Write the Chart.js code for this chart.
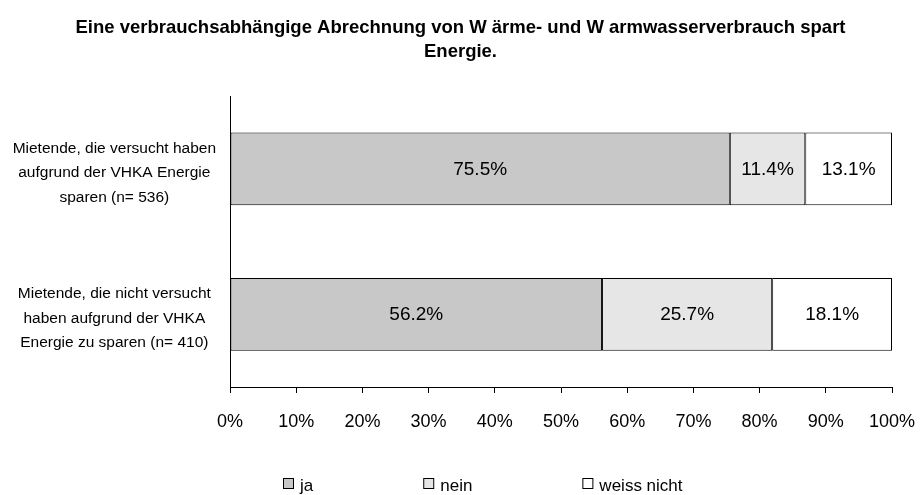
<!DOCTYPE html>
<html><head><meta charset="utf-8">
<script src="https://cdn.jsdelivr.net/npm/chart.js@4.4.1/dist/chart.umd.min.js"></script>
<style>html,body{margin:0;padding:0;background:#fff;} #wrap{width:921px;height:495px;}</style>
</head><body><div id="wrap"><canvas id="c" width="921" height="495"></canvas></div>
<script>
const titleLines = ["Eine verbrauchsabhängige Abrechnung von W ärme- und W armwasserverbrauch spart", "Energie."];
const categories = [
  ["Mietende, die versucht haben", "aufgrund der VHKA Energie", "sparen (n= 536)"],
  ["Mietende, die nicht versucht", "haben aufgrund der VHKA", "Energie zu sparen (n= 410)"]
];
const seriesNames = ["ja", "nein", "weiss nicht"];
const jaValues = [75.5, 56.2];
const neinValues = [11.4, 25.7];
const weissNichtValues = [13.1, 18.1];
const tickLabels = ["0%", "10%", "20%", "30%", "40%", "50%", "60%", "70%", "80%", "90%", "100%"];

const FONT = '"Liberation Sans", Arial, Helvetica, sans-serif';
const seriesColors = ["#c8c8c8", "#e6e6e6", "#ffffff"];

const dataLabelPlugin = {
  id: 'dataLabels',
  afterDatasetsDraw(chart) {
    const ctx = chart.ctx;
    ctx.save();
    ctx.font = '19px ' + FONT;
    ctx.fillStyle = '#000';
    ctx.textAlign = 'center';
    ctx.textBaseline = 'middle';
    chart.data.datasets.forEach((ds, i) => {
      const meta = chart.getDatasetMeta(i);
      meta.data.forEach((bar, j) => {
        const v = ds.data[j];
        ctx.fillText(v.toFixed(1) + '%', (bar.x + bar.base) / 2, bar.y + 1);
      });
    });
    ctx.restore();
  }
};

const legendPlugin = {
  id: 'bottomLegend',
  afterDraw(chart) {
    const ctx = chart.ctx;
    ctx.save();
    ctx.font = '17px ' + FONT;
    ctx.textAlign = 'left';
    ctx.textBaseline = 'alphabetic';
    let x = chart.chartArea.left + 53;
    const boxTop = chart.height - 17;
    const baseline = chart.height - 4;
    chart.data.datasets.forEach(ds => {
      ctx.fillStyle = ds.backgroundColor;
      ctx.fillRect(x + 0.5, boxTop + 0.5, 10, 10);
      ctx.strokeStyle = '#000';
      ctx.lineWidth = 1;
      ctx.strokeRect(x + 0.5, boxTop + 0.5, 10, 10);
      x += 17;
      ctx.fillStyle = '#000';
      ctx.fillText(ds.label, x, baseline);
      x += ctx.measureText(ds.label).width + 110;
    });
    ctx.restore();
  }
};

new Chart(document.getElementById('c'), {
  type: 'bar',
  data: {
    labels: categories,
    datasets: [
      { label: seriesNames[0], data: jaValues, backgroundColor: seriesColors[0] },
      { label: seriesNames[1], data: neinValues, backgroundColor: seriesColors[1] },
      { label: seriesNames[2], data: weissNichtValues, backgroundColor: seriesColors[2] }
    ].map(d => Object.assign(d, { borderColor: '#000', borderWidth: 1, borderSkipped: false, categoryPercentage: 0.5, barPercentage: 1 }))
  },
  options: {
    indexAxis: 'y',
    responsive: false,
    animation: false,
    devicePixelRatio: 1,
    layout: { padding: { left: 0, right: 0, top: 0, bottom: 48 } },
    plugins: {
      legend: { display: false },
      tooltip: { enabled: false },
      title: {
        display: true,
        text: titleLines,
        color: '#000',
        font: { family: FONT, size: 18.5, weight: 'bold', lineHeight: 24 / 18.5 },
        padding: { top: 16, bottom: 32 }
      }
    },
    scales: {
      x: {
        type: 'linear', stacked: true, min: 0, max: 100,
        ticks: {
          stepSize: 10, color: '#000', padding: 18, maxRotation: 0, autoSkip: false,
          font: { family: FONT, size: 18 },
          callback: (v, i) => tickLabels[i]
        },
        grid: { drawOnChartArea: false, tickLength: 6, color: '#000', lineWidth: 1 },
        border: { color: '#000', width: 1 },
        afterFit: s => { s.height = 60; s.paddingRight = 29; s.paddingLeft = 0; }
      },
      y: {
        type: 'category', stacked: true, offset: true,
        ticks: {
          crossAlign: 'center', color: '#000', padding: 8, labelOffset: 4,
          font: { family: FONT, size: 15.5, lineHeight: 1.58 }
        },
        grid: {
          drawOnChartArea: false, offset: true, tickLength: 6, lineWidth: 1,
          color: c => (c.index === categories.length ? '#000' : 'rgba(0,0,0,0)')
        },
        border: { color: '#000', width: 1 },
        afterFit: s => { s.width = 230; }
      }
    }
  },
  plugins: [dataLabelPlugin, legendPlugin]
});
</script>
</body></html>
